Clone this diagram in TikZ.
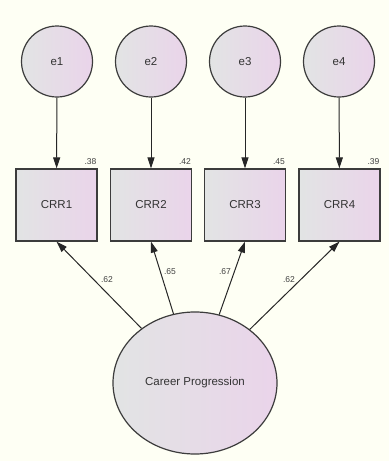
\documentclass[tikz,border=0pt]{standalone}
\usepackage{fontspec}
\setmainfont{Liberation Sans}
\usetikzlibrary{arrows.meta,shapes.geometric}
\definecolor{paper}{RGB}{254,255,244}
\definecolor{shadeL}{RGB}{226,228,228}
\definecolor{shadeR}{RGB}{234,212,234}
\definecolor{rim}{RGB}{60,60,60}
\begin{document}
\begin{tikzpicture}[x=1pt,y=-1pt,
  shaded/.style={draw=rim,line width=1.2pt,left color=shadeL,right color=shadeR,
    font=\fontsize{11.5}{13}\selectfont,text=black!80,inner sep=0pt},
  errvar/.style={shaded,circle,minimum size=71pt},
  indicator/.style={shaded,rectangle,minimum width=81pt,minimum height=72pt},
  latent/.style={shaded,ellipse,minimum width=164pt,minimum height=142pt},
  path/.style={line width=1pt,black!85,-{Triangle[length=11pt,width=7pt]}},
  est/.style={font=\fontsize{8.5}{10}\selectfont,text=black!75,inner sep=0pt}]
\fill[paper] (0,0) rectangle (389,461);
\useasboundingbox (0,0) rectangle (389,461);

% error terms
\node[errvar] (e1) at (57,61.5) {e1};
\node[errvar] (e2) at (151,61.5) {e2};
\node[errvar] (e3) at (245,61.5) {e3};
\node[errvar] (e4) at (339,61.5) {e4};

% observed indicators
\node[indicator] (c1) at (56.5,205) {CRR1};
\node[indicator] (c2) at (151,205) {CRR2};
\node[indicator] (c3) at (245,205) {CRR3};
\node[indicator] (c4) at (339.5,205) {CRR4};

% latent factor
\node[latent] (cp) at (195,383) {Career Progression};

% error paths
\draw[path] (e1) -- (c1);
\draw[path] (e2) -- (c2);
\draw[path] (e3) -- (c3);
\draw[path] (e4) -- (c4);

% squared multiple correlations
\node[est,anchor=south east] (r1) at ([xshift=-1pt,yshift=4pt]c1.north east) {.38};
\node[est,anchor=south east] (r2) at ([xshift=-1pt,yshift=4pt]c2.north east) {.42};
\node[est,anchor=south east] (r3) at ([xshift=-1pt,yshift=4pt]c3.north east) {.45};
\node[est,anchor=south east] (r4) at ([xshift=-1pt,yshift=4pt]c4.north east) {.39};

% factor loadings
\draw[path] (cp) -- (c1.south);
\draw[path] (cp) -- (c2.south);
\draw[path] (cp) -- (c3.south);
\draw[path] (cp) -- (c4.south);
\node[est] (l1) at (107,280) {.62};
\node[est] (l2) at (170,272) {.65};
\node[est] (l3) at (225,272) {.67};
\node[est] (l4) at (289,280) {.62};
\end{tikzpicture}
\end{document}
